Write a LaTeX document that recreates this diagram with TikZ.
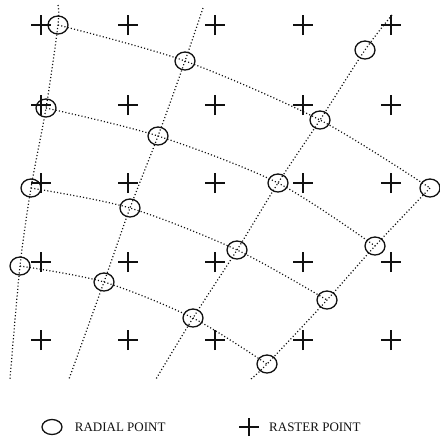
\documentclass[tikz,border=0pt]{standalone}
\usepackage{fontspec}
\setmainfont{Liberation Serif}
\usetikzlibrary{positioning,shapes.geometric}
\definecolor{inkdark}{HTML}{111111}

\begin{document}
\begin{tikzpicture}[x=1pt,y=-1pt,
    radial/.style={ellipse,draw=inkdark,line width=1.3pt,inner sep=0pt,minimum width=20pt,minimum height=18pt},
    rasterline/.style={inkdark,line width=1.3pt},
    gridline/.style={inkdark,line width=1.2pt,dash pattern=on 1.1pt off 2.2pt},
    legtext/.style={font=\fontsize{13}{15}\selectfont,text=inkdark,inner sep=0pt}]
  \useasboundingbox (0,0) rectangle (440,437);

  % raster points
  \foreach \x [count=\i] in {41,128,215,303,391}
    \foreach \y [count=\j] in {25,105,183,262,340} {
      \coordinate (c\i\j) at (\x,\y);
      \draw[rasterline] ([xshift=-10pt]c\i\j) -- ([xshift=10pt]c\i\j)
                        ([yshift=-10pt]c\i\j) -- ([yshift=10pt]c\i\j);
    }

  % radial points
  \node[radial] (r01) at (365,50) {};
  \node[radial] (r11) at (58,25) {};
  \node[radial] (r12) at (185,61) {};
  \node[radial] (r13) at (320,120) {};
  \node[radial] (r14) at (430,188) {};
  \node[radial] (r21) at (46,108) {};
  \node[radial] (r22) at (158,136) {};
  \node[radial] (r23) at (278,183) {};
  \node[radial] (r24) at (375,246) {};
  \node[radial] (r31) at (31,188) {};
  \node[radial] (r32) at (130,208) {};
  \node[radial] (r33) at (237,250) {};
  \node[radial] (r34) at (327,300) {};
  \node[radial] (r41) at (20,266) {};
  \node[radial] (r42) at (104,282) {};
  \node[radial] (r43) at (193,318) {};
  \node[radial] (r44) at (267,364) {};

  % free ends of the radial lines
  \coordinate (top1) at (58,5);
  \coordinate (top2) at (203,8);
  \coordinate (top3) at (392,15);
  \coordinate (bot1) at (10,379);
  \coordinate (bot2) at (69,379);
  \coordinate (bot3) at (156,379);
  \coordinate (bot4) at (251,379);

  % range lines
  \foreach \r in {1,2,3,4}
    \draw[gridline] plot[smooth,tension=0.5] coordinates {(r\r1.center) (r\r2.center) (r\r3.center) (r\r4.center)};

  % angle lines
  \draw[gridline] plot[smooth,tension=0.5] coordinates {(top1) (r11.center) (r21.center) (r31.center) (r41.center) (bot1)};
  \draw[gridline] plot[smooth,tension=0.5] coordinates {(top2) (r12.center) (r22.center) (r32.center) (r42.center) (bot2)};
  \draw[gridline] plot[smooth,tension=0.5] coordinates {(top3) (r01.center) (r13.center) (r23.center) (r33.center) (r43.center) (bot3)};
  \draw[gridline] plot[smooth,tension=0.5] coordinates {(r14.center) (r24.center) (r34.center) (r44.center) (bot4)};

  % legend
  \node[radial,minimum height=15pt] (legr) at (52,427) {};
  \node[legtext,right=12pt of legr] (legrt) {RADIAL POINT};
  \coordinate (legc) at (249,427);
  \draw[rasterline] ([xshift=-10pt]legc) -- ([xshift=10pt]legc)
                    ([yshift=-9pt]legc) -- ([yshift=9pt]legc);
  \node[legtext,right=20pt of legc] (legct) {RASTER POINT};
\end{tikzpicture}
\end{document}
